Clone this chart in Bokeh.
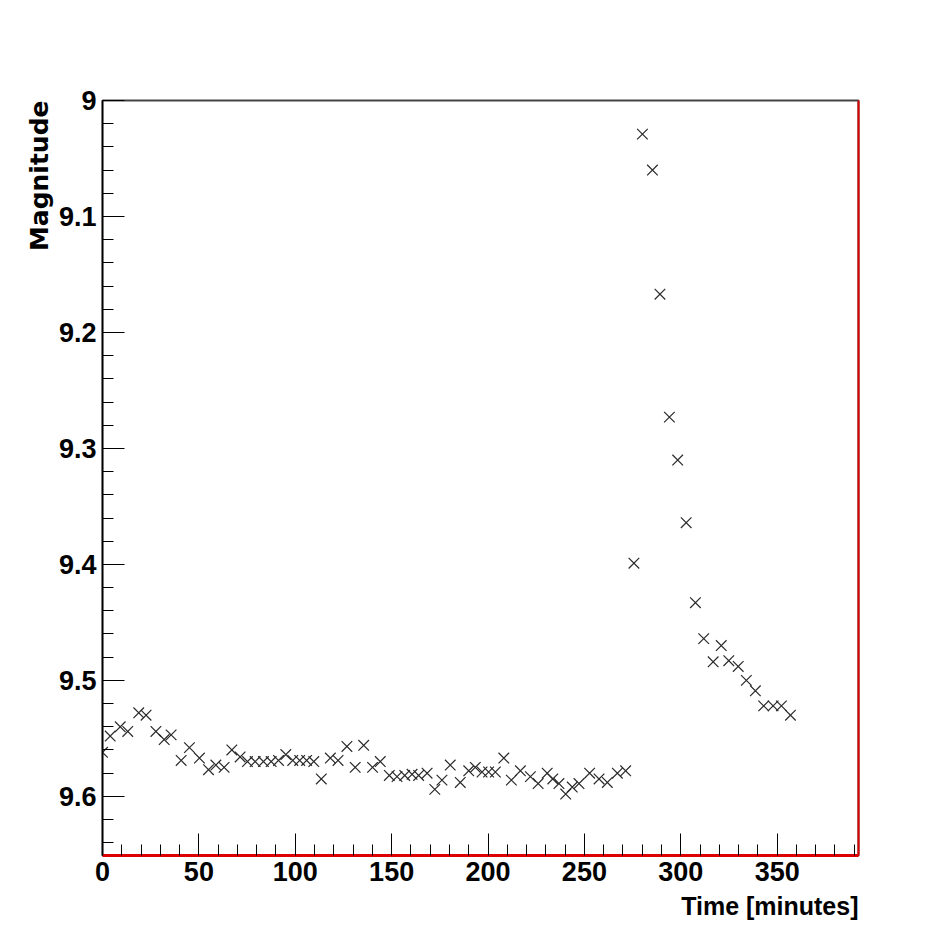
from bokeh.plotting import figure
from bokeh.models import (Range1d, FixedTicker, CustomJSTickFormatter, Title,
                          LinearAxis, ColumnDataSource)
from bokeh.embed import file_html
from bokeh.resources import INLINE

# ---- data ----
time_min = [0.0, 4.0, 9.2, 13.1, 18.8, 22.6, 27.7, 32.0, 35.6, 40.8,
            45.1, 50.3, 55.0, 58.8, 63.1, 67.1, 71.4, 75.2, 79.2, 83.5,
            87.5, 91.3, 95.1, 98.7, 102.3, 105.9, 109.6, 113.5, 118.2, 122.2,
            126.8, 131.1, 135.5, 140.1, 144.1, 148.8, 152.8, 156.8, 160.6, 164.0,
            168.4, 172.4, 176.1, 180.4, 185.6, 190.0, 193.4, 196.9, 200.3, 203.8,
            208.2, 212.1, 216.8, 222.0, 226.0, 230.7, 233.6, 236.8, 240.3, 243.7,
            247.2, 252.7, 257.6, 261.9, 267.1, 271.4,
            275.7, 280.1, 285.3, 289.2, 294.1, 298.4, 302.8, 307.6, 311.9, 316.8,
            321.0, 324.9, 329.8, 334.0, 338.7, 343.0, 347.9, 352.2, 356.9]
magnitude = [9.562, 9.548, 9.540, 9.544, 9.528, 9.530, 9.544, 9.551, 9.547, 9.569,
             9.558, 9.567, 9.577, 9.573, 9.575, 9.560, 9.566, 9.570, 9.570, 9.570,
             9.570, 9.569, 9.564, 9.569, 9.569, 9.569, 9.570, 9.585, 9.567, 9.569,
             9.557, 9.575, 9.556, 9.575, 9.570, 9.582, 9.583, 9.582, 9.581, 9.582,
             9.580, 9.594, 9.586, 9.573, 9.588, 9.578, 9.575, 9.579, 9.579, 9.579,
             9.567, 9.586, 9.578, 9.583, 9.589, 9.580, 9.585, 9.589, 9.598, 9.592,
             9.589, 9.580, 9.585, 9.588, 9.580, 9.578,
             9.399, 9.029, 9.060, 9.167, 9.273, 9.310, 9.364, 9.433, 9.464, 9.484,
             9.470, 9.483, 9.488, 9.500, 9.509, 9.522, 9.522, 9.522, 9.530]

x_ticks = [0, 50, 100, 150, 200, 250, 300, 350]
x_minor = [10, 20, 30, 40, 60, 70, 80, 90, 110, 120, 130, 140, 160, 170, 180, 190,
           210, 220, 230, 240, 260, 270, 280, 290, 310, 320, 330, 340, 360, 370, 380, 390]
y_ticks = [9.0, 9.1, 9.2, 9.3, 9.4, 9.5, 9.6]
y_minor = [9.02, 9.04, 9.06, 9.08, 9.12, 9.14, 9.16, 9.18, 9.22, 9.24, 9.26, 9.28,
           9.32, 9.34, 9.36, 9.38, 9.42, 9.44, 9.46, 9.48, 9.52, 9.54, 9.56, 9.58,
           9.62, 9.64]
X_MIN, X_MAX = 0, 392.2
Y_TOP, Y_BOTTOM = 9.0, 9.651

TICK_FONT = "Liberation Sans"

p = figure(width=928, height=928, output_backend="svg", toolbar_location=None,
           x_range=Range1d(X_MIN, X_MAX), y_range=Range1d(Y_BOTTOM, Y_TOP),
           min_border_left=102, min_border_right=70, min_border_top=100,
           min_border_bottom=73)
p.background_fill_color = "white"
p.border_fill_color = "white"
p.grid.visible = False
p.outline_line_color = "#444444"
p.outline_line_width = 2

src = ColumnDataSource(dict(t=time_min, m=magnitude))
p.scatter("t", "m", source=src, marker="x", size=15, line_color="#2a2a2a",
          line_width=1.2)

for ax in (p.xaxis[0], p.yaxis[0]):
    ax.major_tick_in = 22
    ax.major_tick_out = 0
    ax.minor_tick_in = 11
    ax.minor_tick_out = 0
    ax.major_tick_line_color = "black"
    ax.minor_tick_line_color = "black"
    ax.major_label_text_font = TICK_FONT
    ax.major_label_text_font_style = "bold"
    ax.major_label_text_font_size = "27px"
    ax.major_label_text_color = "black"
    ax.major_label_standoff = 6

p.xaxis[0].ticker = FixedTicker(ticks=x_ticks, minor_ticks=x_minor)
p.yaxis[0].ticker = FixedTicker(ticks=y_ticks, minor_ticks=y_minor)
p.yaxis[0].formatter = CustomJSTickFormatter(code="return String(Math.round(tick*10)/10);")
p.xaxis[0].axis_line_color = "#dd0000"
p.xaxis[0].axis_line_width = 3
p.yaxis[0].axis_line_color = "black"
p.yaxis[0].axis_line_width = 1.5

right = LinearAxis(ticker=FixedTicker(ticks=[]), major_tick_in=0, major_tick_out=0,
                   minor_tick_in=0, minor_tick_out=0, axis_line_color="#dd0000",
                   axis_line_width=2, major_label_text_alpha=0)
p.add_layout(right, "right")

p.add_layout(Title(text="Time [minutes]", align="right", text_font=TICK_FONT,
                   text_font_style="bold", text_font_size="25px",
                   text_color="black", standoff=12), "below")
p.add_layout(Title(text="Magnitude", align="right", text_font="DejaVu Sans",
                   text_font_style="bold", text_font_size="25px",
                   text_color="black", standoff=4), "left")

open("out.html", "w").write(file_html(p, INLINE))
